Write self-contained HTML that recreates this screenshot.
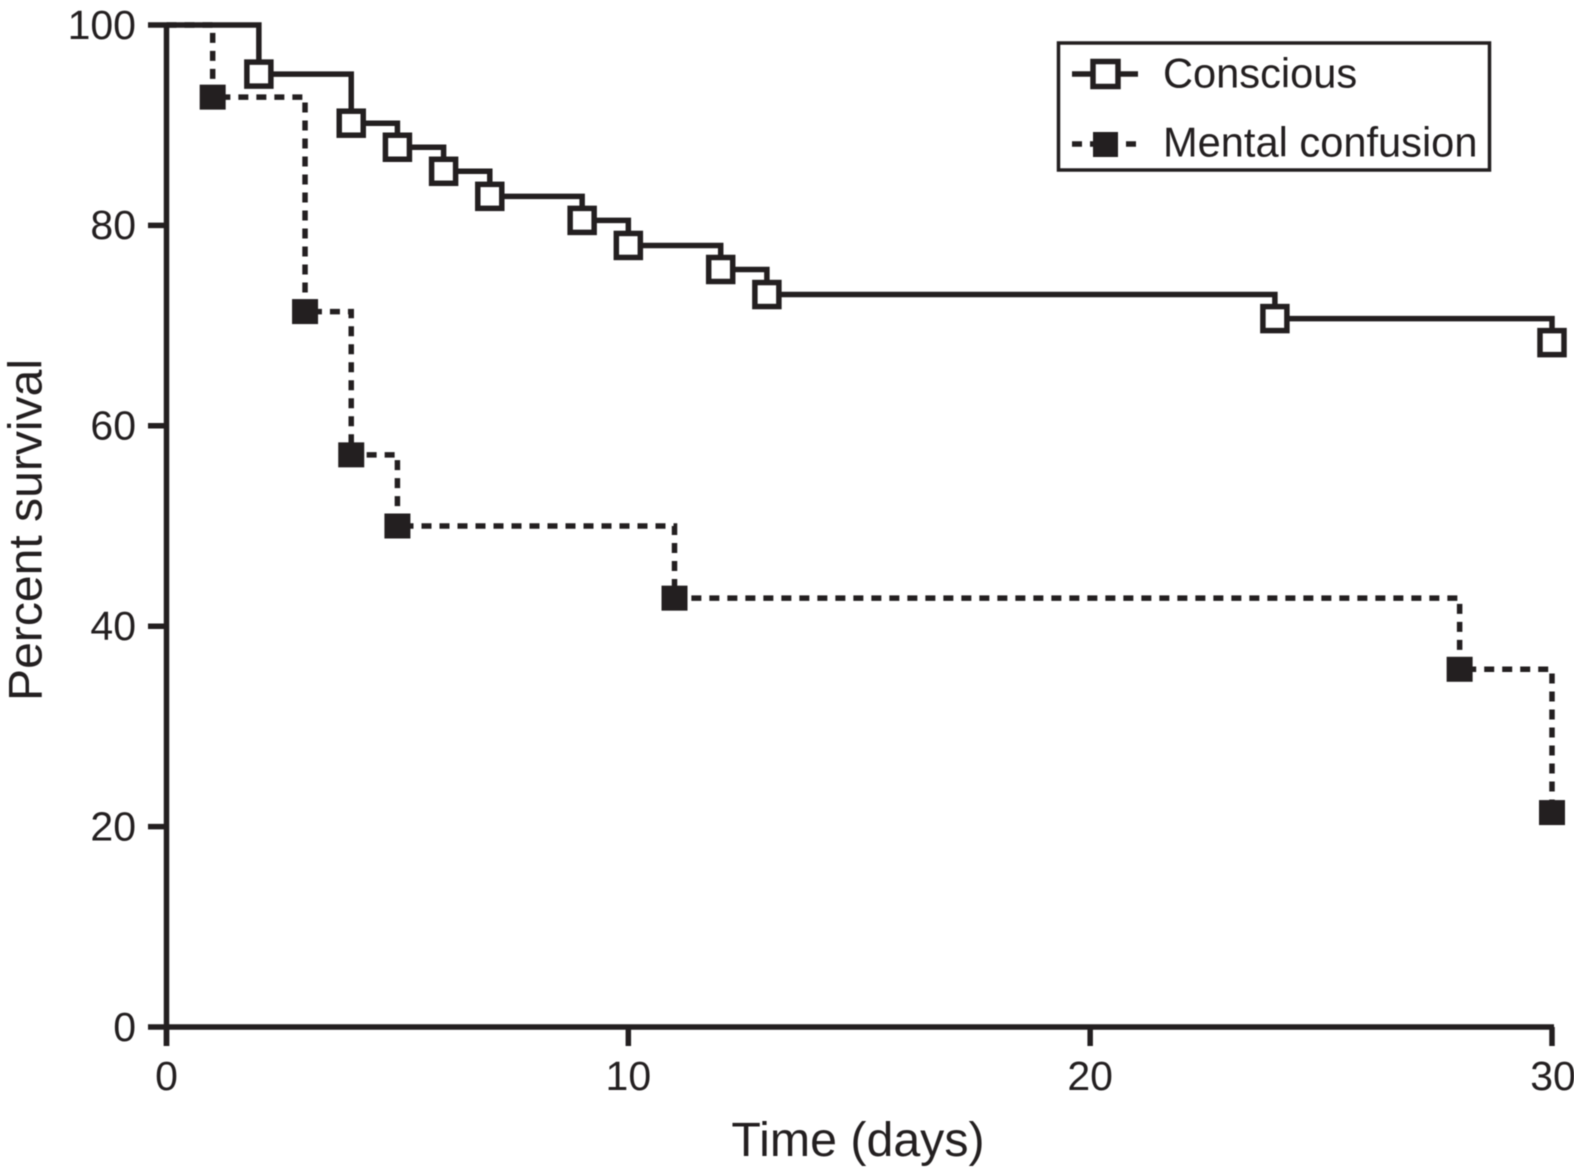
<!DOCTYPE html>
<html lang="en">
<head>
<meta charset="utf-8">
<title>Percent survival over time</title>
<style>
html,body{margin:0;padding:0;background:#fff;width:1574px;height:1167px;overflow:hidden}
svg{display:block;font-family:"Liberation Sans",sans-serif;fill:#231f20}
</style>
</head>
<body>
<svg id="chart" xmlns="http://www.w3.org/2000/svg" width="1574" height="1167" viewBox="0 0 1574 1167">
  <rect width="1574" height="1167" fill="#fff"/>
  <g id="blurred" style="filter:blur(0.5px)">
    <g id="axes"></g>
    <g id="series"></g>
    <text x="858" y="1156" font-size="48.3" text-anchor="middle">Time (days)</text>
    <text transform="translate(41.5,530) rotate(-90)" font-size="47.5" text-anchor="middle" textLength="342" lengthAdjust="spacingAndGlyphs">Percent survival</text>
    <g>
      <rect x="1058.5" y="43" width="431" height="127" fill="#fff" stroke="#231f20" stroke-width="3.5"/>
      <g>
        <line x1="1072" x2="1138" y1="74" y2="74" stroke="#231f20" stroke-width="5.5"/>
        <rect x="1093" y="61.5" width="25" height="25" fill="#fff" stroke="#231f20" stroke-width="5.5"/>
        <text x="1163" y="87.3" font-size="41.6">Conscious</text>
      </g>
      <g>
        <line x1="1072" x2="1138" y1="144" y2="144" stroke="#231f20" stroke-width="5.5" stroke-dasharray="10 8"/>
        <rect x="1093" y="132" width="25" height="25" fill="#231f20"/>
        <text x="1163" y="156.3" font-size="41.6">Mental confusion</text>
      </g>
    </g>
  </g>
</svg>
<script>
var xTicks = [0, 10, 20, 30];
var yTicks = [0, 20, 40, 60, 80, 100];
var consciousDays = [2, 4, 5, 6, 7, 9, 10, 12, 13, 24, 30];
var consciousSurvival = [95.1, 90.2, 87.8, 85.4, 82.9, 80.5, 78.0, 75.6, 73.1, 70.7, 68.3];
var confusionDays = [1, 3, 4, 5, 11, 28, 30];
var confusionSurvival = [92.8, 71.4, 57.1, 50.0, 42.8, 35.7, 21.4];

var NS = 'http://www.w3.org/2000/svg';
var INK = '#231f20';
var X0 = 166.5, X1 = 1552, Y0 = 1027, Y1 = 25;
function xScale(v) { return X0 + (v / 30) * (X1 - X0); }
function yScale(v) { return Y0 - (v / 100) * (Y0 - Y1); }
function make(tag, attrs, parent) {
  var el = document.createElementNS(NS, tag);
  for (var k in attrs) el.setAttribute(k, attrs[k]);
  parent.appendChild(el);
  return el;
}

var axes = document.getElementById('axes');
var seriesGroup = document.getElementById('series');

var yAxis = make('line', { x1: X0, x2: X0, y1: Y1 - 2, y2: Y0 + 19, stroke: INK, 'stroke-width': 5.5 }, axes);


var xAxis = make('line', { x1: X0, x2: X1 + 2, y1: Y0, y2: Y0, stroke: INK, 'stroke-width': 5.5 }, axes);



yTicks.forEach(function (t) {
  var mark = make('line', { x1: 148, x2: X0, y1: yScale(t), y2: yScale(t), stroke: INK, 'stroke-width': 5.5 }, axes);
  
  
  var label = make('text', { x: 136, y: yScale(t) + 13.8, 'font-size': 41, 'text-anchor': 'end' }, axes);
  label.textContent = String(t);
  
  
});

xTicks.forEach(function (t) {
  var mark = make('line', { x1: xScale(t), x2: xScale(t), y1: Y0, y2: Y0 + 19, stroke: INK, 'stroke-width': 5.5 }, axes);
  
  
  var label = make('text', { x: xScale(t) - (t === 30 ? -1 : 0), y: 1090, 'font-size': 41, 'text-anchor': 'middle' }, axes);
  label.textContent = String(t);
  
  
});

function stepPath(days, values) {
  var d = 'M' + xScale(0) + ' ' + yScale(100);
  var prev = 100;
  days.forEach(function (day, i) {
    d += ' L' + xScale(day) + ' ' + yScale(prev);
    d += ' L' + xScale(day) + ' ' + yScale(values[i]);
    prev = values[i];
  });
  return d;
}

var confusionLine = make('path', {
  d: stepPath(confusionDays, confusionSurvival),
  fill: 'none', stroke: INK, 'stroke-width': 5.5, 'stroke-dasharray': '10 8', 'stroke-linejoin': 'miter'
}, seriesGroup);



var consciousLine = make('path', {
  d: stepPath(consciousDays, consciousSurvival),
  fill: 'none', stroke: INK, 'stroke-width': 5.5, 'stroke-linejoin': 'miter'
}, seriesGroup);



confusionDays.forEach(function (day, i) {
  var m = make('rect', {
    x: xScale(day) - 13, y: yScale(confusionSurvival[i]) - 12.5, width: 26, height: 25, fill: INK
  }, seriesGroup);
  
  
});

consciousDays.forEach(function (day, i) {
  var m = make('rect', {
    x: xScale(day) - 12, y: yScale(consciousSurvival[i]) - 12, width: 24, height: 24,
    fill: '#fff', stroke: INK, 'stroke-width': 5.5
  }, seriesGroup);
  
  
});
</script>
</body>
</html>
